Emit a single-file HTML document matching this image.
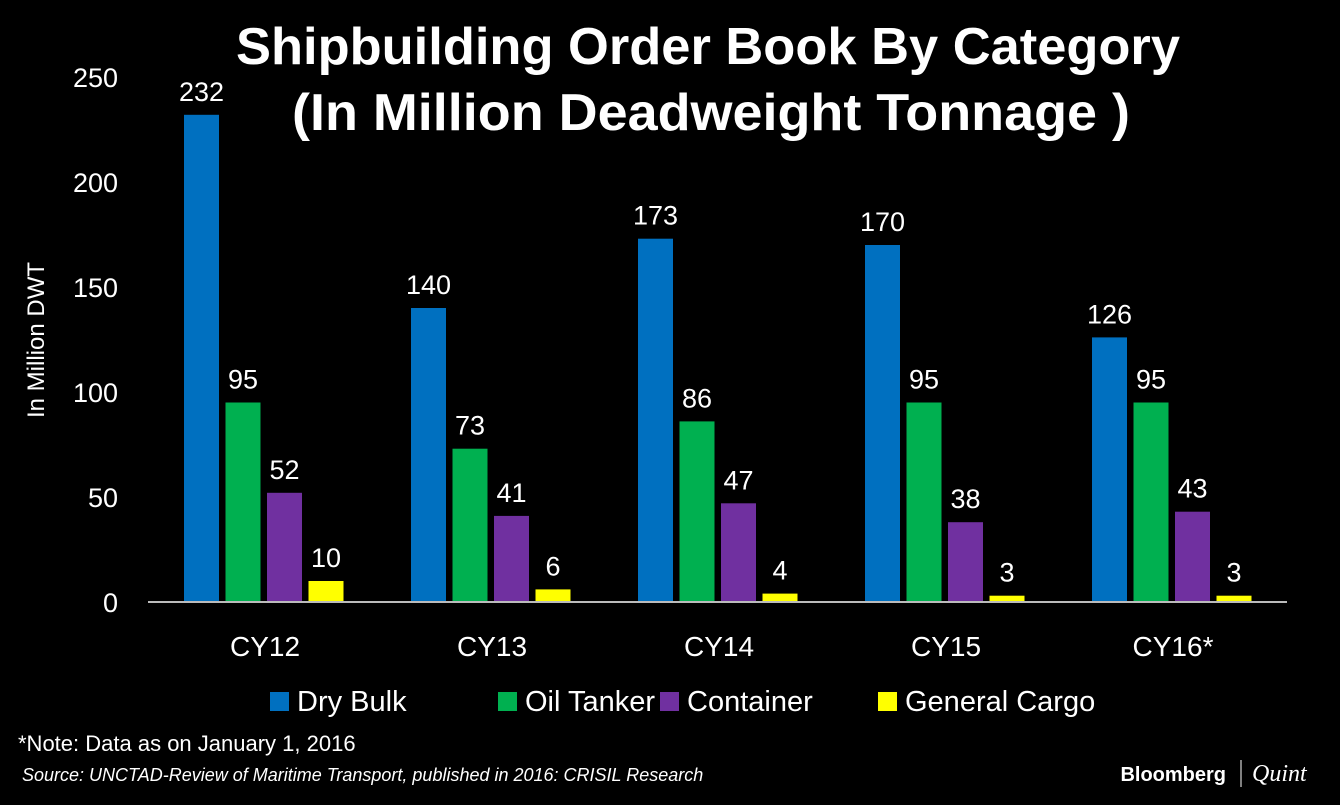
<!DOCTYPE html>
<html><head><meta charset="utf-8"><style>
body{margin:0;background:#000;width:1340px;height:800px;overflow:hidden;font-family:"Liberation Sans","DejaVu Sans",sans-serif;}
</style></head><body>
<svg width="1340" height="800" xmlns="http://www.w3.org/2000/svg">
<rect width="1340" height="800" fill="#000"/>
<text x="236" y="64" textLength="944" lengthAdjust="spacingAndGlyphs" fill="#fff" font-size="52" font-weight="bold" font-family="Liberation Sans, sans-serif">Shipbuilding Order Book By Category</text>
<text x="292" y="130" textLength="838" lengthAdjust="spacingAndGlyphs" fill="#fff" font-size="52" font-weight="bold" font-family="Liberation Sans, sans-serif">(In Million Deadweight Tonnage )</text>
<text transform="translate(44,340) rotate(-90)" text-anchor="middle" fill="#fff" font-size="24">In Million DWT</text>
<g id="yticks"></g>
<g id="bars"></g>
<line x1="148" y1="602" x2="1287" y2="602" stroke="#bbb" stroke-width="2"/>
<g id="legend"></g>
<text x="18" y="751" fill="#fff" font-size="22">*Note: Data as on January 1, 2016</text>
<text x="22" y="781" fill="#fff" font-size="18" font-style="italic">Source: UNCTAD-Review of Maritime Transport, published in 2016: CRISIL Research</text>
<text x="1226" y="781" text-anchor="end" fill="#fff" font-size="20" font-weight="bold">Bloomberg</text>
<line x1="1241" y1="760" x2="1241" y2="787" stroke="#aaa" stroke-width="1.5"/>
<text x="1252" y="781" fill="#fff" font-size="24" font-style="italic" font-family="Liberation Serif, serif">Quint</text>
</svg>
<script>
const categories=["CY12","CY13","CY14","CY15","CY16*"];
const seriesNames=["Dry Bulk","Oil Tanker","Container","General Cargo"];
const dryBulk=[232,140,173,170,126];
const oilTanker=[95,73,86,95,95];
const container=[52,41,47,38,43];
const generalCargo=[10,6,4,3,3];
const yTicks=[0,50,100,150,200,250];
const colors=["#0070C0","#00B050","#7030A0","#FFFF00"];
const series=[dryBulk,oilTanker,container,generalCargo];
const NS="http://www.w3.org/2000/svg";
const y0=602,pxPer=2.1;
const yScale=v=>y0-v*pxPer;
const groupStart=i=>184+i*227;
const barX=(i,s)=>groupStart(i)+s*41.5;
const bw=35;
function mk(t,a,txt){const e=document.createElementNS(NS,t);for(const k in a)e.setAttribute(k,a[k]);if(txt!==undefined)e.textContent=txt;return e;}
const yt=document.getElementById('yticks');
yTicks.forEach(v=>{
 const t=mk('text',{x:118,y:yScale(v)+10,'text-anchor':'end',fill:'#fff','font-size':'27'},v);
 
 
 yt.appendChild(t);
});
const bg=document.getElementById('bars');
categories.forEach((c,i)=>{
 series.forEach((arr,s)=>{
  const v=arr[i];
  const r=mk('rect',{x:barX(i,s),y:yScale(v),width:bw,height:v*pxPer,fill:colors[s]});
  
  
  bg.appendChild(r);
  const l=mk('text',{x:barX(i,s)+bw/2,y:yScale(v)-14,'text-anchor':'middle',fill:'#fff','font-size':'27'},v);
  
  
  bg.appendChild(l);
 });
 const cl=mk('text',{x:groupStart(i)+81,y:656,'text-anchor':'middle',fill:'#fff','font-size':'28'},c);
 
 
 bg.appendChild(cl);
});
const lg=document.getElementById('legend');
const lx=[270,498,660,878];
seriesNames.forEach((n,s)=>{
 const g=mk('g',{});
 
 
 g.appendChild(mk('rect',{x:lx[s],y:692,width:19,height:19,fill:colors[s]}));
 g.appendChild(mk('text',{x:lx[s]+27,y:711,fill:'#fff','font-size':'29'},n));
 lg.appendChild(g);
});
</script>
</body></html>
